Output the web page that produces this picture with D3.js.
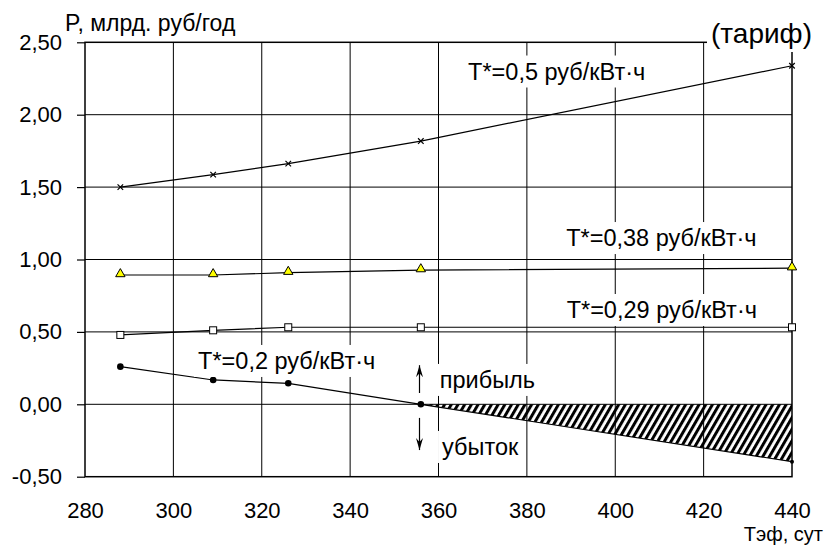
<!DOCTYPE html>
<html>
<head>
<meta charset="utf-8">
<script src="https://cdn.jsdelivr.net/npm/d3@7"></script>
<style>
  body { margin: 0; background: #fff; }
  svg text { font-family: "Liberation Sans", Arial, sans-serif; fill: #000; }
</style>
</head>
<body>
<svg id="chart" width="825" height="546"></svg>
<script>
// Данные графика: P (млрд. руб/год) от Тэф (сут) при разных тарифах
var days      = [288, 309, 326, 356, 440];
var p05       = [1.50, 1.586, 1.662, 1.818, 2.338];
var p038      = [0.893, 0.893, 0.909, 0.927, 0.94];
var p029      = [0.479, 0.511, 0.532, 0.532, 0.532];
var p02       = [0.26, 0.168, 0.145, 0.0, -0.396];

var xTicks      = [280, 300, 320, 340, 360, 380, 400, 420, 440];
var yTicks      = [-0.5, 0, 0.5, 1.0, 1.5, 2.0, 2.5];
var yTickLabels = ["-0,50", "0,00", "0,50", "1,00", "1,50", "2,00", "2,50"];

var tarifNames  = ["T*=0,5 руб/кВт·ч", "T*=0,38 руб/кВт·ч", "T*=0,29 руб/кВт·ч", "T*=0,2 руб/кВт·ч"];
// где стоят подписи тарифов (в единицах осей: Тэф, P)
var tarifLabelX = [366.7, 388.9, 389, 305.6];
var tarifLabelY = [2.243, 1.093, 0.596, 0.244];

var svg = d3.select("#chart");
var fontSize = 22;
var labelSize = 23.5;

var x = d3.scaleLinear().domain([280, 440]).range([85, 792]);
var y = d3.scaleLinear().domain([-0.5, 2.5]).range([476.7, 42.3]);

// сетка
svg.append("g")
   .selectAll("line")
   .data(xTicks.slice(1, -1))
   .join("line")
   .attr("x1", function (d) { return x(d); })
   .attr("x2", function (d) { return x(d); })
   .attr("y1", y(2.5))
   .attr("y2", y(-0.5))
   .attr("stroke", "#000")
   .attr("stroke-width", 1);

svg.append("g")
   .selectAll("line")
   .data(yTicks.slice(1, -1))
   .join("line")
   .attr("x1", x(280))
   .attr("x2", x(440))
   .attr("y1", function (d) { return y(d); })
   .attr("y2", function (d) { return y(d); })
   .attr("stroke", "#000")
   .attr("stroke-width", 1);

// оси
var yAxis = d3.axisLeft(y)
              .tickValues(yTicks)
              .tickSize(8)
              .tickSizeOuter(0)
              .tickPadding(15)
              .tickFormat(function (d, i) { return yTickLabels[i]; });

var gy = svg.append("g")
            .attr("transform", "translate(" + x(280) + ",0)")
            .call(yAxis);
gy.select(".domain").remove();
gy.selectAll("line").attr("stroke", "#000").attr("stroke-width", 1.2);
gy.selectAll("text").style("font-size", fontSize + "px")
  .style("font-family", "'Liberation Sans', Arial, sans-serif").attr("fill", "#000");

var xAxis = d3.axisBottom(x)
              .tickValues(xTicks)
              .tickSize(0)
              .tickPadding(26);

var gx = svg.append("g")
            .attr("transform", "translate(0," + y(-0.5) + ")")
            .call(xAxis);
gx.select(".domain").remove();
gx.selectAll("text").style("font-size", fontSize + "px")
  .style("font-family", "'Liberation Sans', Arial, sans-serif").attr("fill", "#000");

// рамка
svg.append("rect")
   .attr("x", x(280))
   .attr("y", y(2.5))
   .attr("width", x(440) - x(280))
   .attr("height", y(-0.5) - y(2.5))
   .attr("fill", "none")
   .attr("stroke", "#000")
   .attr("stroke-width", 1.5);

// подписи с белой подложкой (закрывают сетку)
function boxedText(tx, ty, str, size, anchor) {
  var g = svg.append("g");
  var bg = g.append("rect").attr("fill", "#fff");
  var t = g.append("text")
           .attr("x", tx)
           .attr("y", ty)
           .attr("text-anchor", anchor || "start")
           .style("font-size", size + "px")
           .text(str);
  var bb = t.node().getBBox();
  bg.attr("x", bb.x - 4)
    .attr("y", bb.y - 3)
    .attr("width", bb.width + 8)
    .attr("height", bb.height + 6);
  return g;
}

// штриховка зоны убытка
var defs = svg.append("defs");
defs.append("pattern")
    .attr("id", "hatch")
    .attr("patternUnits", "userSpaceOnUse")
    .attr("width", 5.8)
    .attr("height", 10)
    .attr("patternTransform", "rotate(30)")
    .append("line")
    .attr("x1", 1.5).attr("x2", 1.5)
    .attr("y1", 0).attr("y2", 10)
    .attr("stroke", "#000")
    .attr("stroke-width", 3);

var lossPts = days.map(function (d, i) { return [d, p02[i]]; })
                  .filter(function (p) { return p[0] >= 356; });

svg.append("path")
   .datum(lossPts)
   .attr("d", d3.area()
                .x(function (p) { return x(p[0]); })
                .y0(y(0))
                .y1(function (p) { return y(p[1]); }))
   .attr("fill", "url(#hatch)")
   .attr("stroke", "none");

// линии серий
var series = [p05, p038, p029, p02];
var line = d3.line()
             .x(function (p) { return x(p[0]); })
             .y(function (p) { return y(p[1]); });

series.forEach(function (vals) {
  svg.append("path")
     .datum(days.map(function (d, i) { return [d, vals[i]]; }))
     .attr("d", line)
     .attr("fill", "none")
     .attr("stroke", "#000")
     .attr("stroke-width", 1.2);
});

// маркеры
var cross = d3.symbol().type(d3.symbolX).size(22);
svg.append("g").selectAll("path")
   .data(days)
   .join("path")
   .attr("transform", function (d, i) { return "translate(" + x(d) + "," + y(p05[i]) + ")"; })
   .attr("d", cross)
   .attr("stroke", "#000")
   .attr("stroke-width", 1.2);

var tri = d3.symbol().type(d3.symbolTriangle).size(38);
svg.append("g").selectAll("path")
   .data(days)
   .join("path")
   .attr("transform", function (d, i) { return "translate(" + x(d) + "," + (y(p038[i]) - 1) + ")"; })
   .attr("d", tri)
   .attr("fill", "#ffff00")
   .attr("stroke", "#000")
   .attr("stroke-width", 1);

svg.append("g").selectAll("rect")
   .data(days)
   .join("rect")
   .attr("x", function (d) { return x(d) - 3.5; })
   .attr("y", function (d, i) { return y(p029[i]) - 3.5; })
   .attr("width", 7)
   .attr("height", 7)
   .attr("fill", "#fff")
   .attr("stroke", "#000")
   .attr("stroke-width", 1);

svg.append("g").selectAll("circle")
   .data(days)
   .join("circle")
   .attr("cx", function (d) { return x(d); })
   .attr("cy", function (d, i) { return y(p02[i]); })
   .attr("r", function (d, i) { return i === days.length - 1 ? 2 : 3.3; })
   .attr("fill", "#000");

// подписи тарифов
tarifNames.forEach(function (name, i) {
  boxedText(x(tarifLabelX[i]), y(tarifLabelY[i]), name, labelSize);
});

boxedText(x(360.3), y(0.113), "прибыль", labelSize);
boxedText(x(360.8), y(-0.35), "убыток", labelSize);

// стрелки прибыль / убыток
defs.append("marker")
    .attr("id", "arrow")
    .attr("viewBox", "0 0 12 7")
    .attr("refX", 12)
    .attr("refY", 3.5)
    .attr("markerUnits", "userSpaceOnUse")
    .attr("markerWidth", 12)
    .attr("markerHeight", 7)
    .attr("orient", "auto")
    .append("path")
    .attr("d", "M0,0 L12,3.5 L0,7 L4,3.5 Z")
    .attr("fill", "#000");

var arrowFrom = [0.078, -0.094];
var arrowTo   = [0.27, -0.316];
arrowFrom.forEach(function (v, i) {
  svg.append("line")
     .attr("x1", x(355.7)).attr("x2", x(355.7))
     .attr("y1", y(v)).attr("y2", y(arrowTo[i]))
     .attr("stroke", "#000")
     .attr("stroke-width", 1.2)
     .attr("marker-end", "url(#arrow)");
});

// заголовки осей
svg.append("text")
   .attr("x", 65)
   .attr("y", 31)
   .style("font-size", "23px")
   .text("P, млрд. руб/год");

boxedText(711, 43, "(тариф)", 28);

svg.append("text")
   .attr("x", 823)
   .attr("y", 541)
   .attr("text-anchor", "end")
   .style("font-size", "20px")
   .text("Тэф, сут");
</script>
</body>
</html>
